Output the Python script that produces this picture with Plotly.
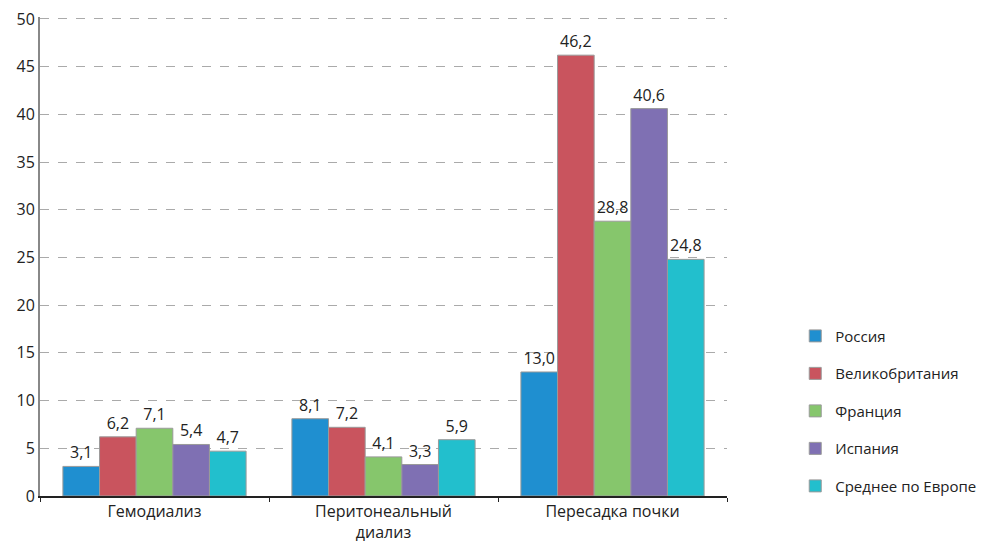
import plotly.graph_objects as go

categories = ["Гемодиализ", "Перитонеальный<br>диализ", "Пересадка почки"]
series_names = ["Россия", "Великобритания", "Франция", "Испания", "Среднее по Европе"]
russia = [3.1, 8.1, 13.0]
uk = [6.2, 7.2, 46.2]
france = [7.1, 4.1, 28.8]
spain = [5.4, 3.3, 40.6]
europe = [4.7, 5.9, 24.8]
colors = ["#1f8fd0", "#c9545e", "#86c66c", "#7f70b3", "#22bfcd"]

fig = go.Figure()
for i, (name, vals) in enumerate(zip(series_names, [russia, uk, france, spain, europe])):
    fig.add_trace(go.Bar(
        x=categories, y=vals, name=name,
        marker=dict(color=colors[i], line=dict(color="#9a9a9a", width=1)),
        text=[f"{v:.1f}".replace(".", ",") for v in vals],
        textposition="outside", cliponaxis=False,
        textfont=dict(size=16, color="#222"),
        legendgroup=name,
    ))

fig.update_layout(
    width=983, height=546,
    margin=dict(l=40, r=256, t=17, b=50, autoexpand=False),
    paper_bgcolor="white", plot_bgcolor="white",
    font=dict(family="Open Sans", size=16, color="#222"),
    barmode="group", bargap=0.2, bargroupgap=0,
    showlegend=True,
    legend=dict(xref="container", yref="container", x=0.809, xanchor="left",
                y=0.247, yanchor="middle",
                font=dict(size=15, color="#222"), tracegroupgap=15,
                itemwidth=30),
    yaxis=dict(range=[0, 50.2], tickvals=list(range(0, 51, 5)), showgrid=True,
               gridcolor="#aaaaaa", griddash="dash", gridwidth=1, showline=True,
               linecolor="#888888", linewidth=2, ticks="", tickfont=dict(size=16),
               zeroline=False, automargin=False),
    xaxis=dict(showline=True, linecolor="#222", linewidth=1.5, ticks="outside",
               tickson="boundaries", ticklen=4, tickcolor="#222",
               tickfont=dict(size=16), automargin=False),
)
fig.write_html("out.html")
